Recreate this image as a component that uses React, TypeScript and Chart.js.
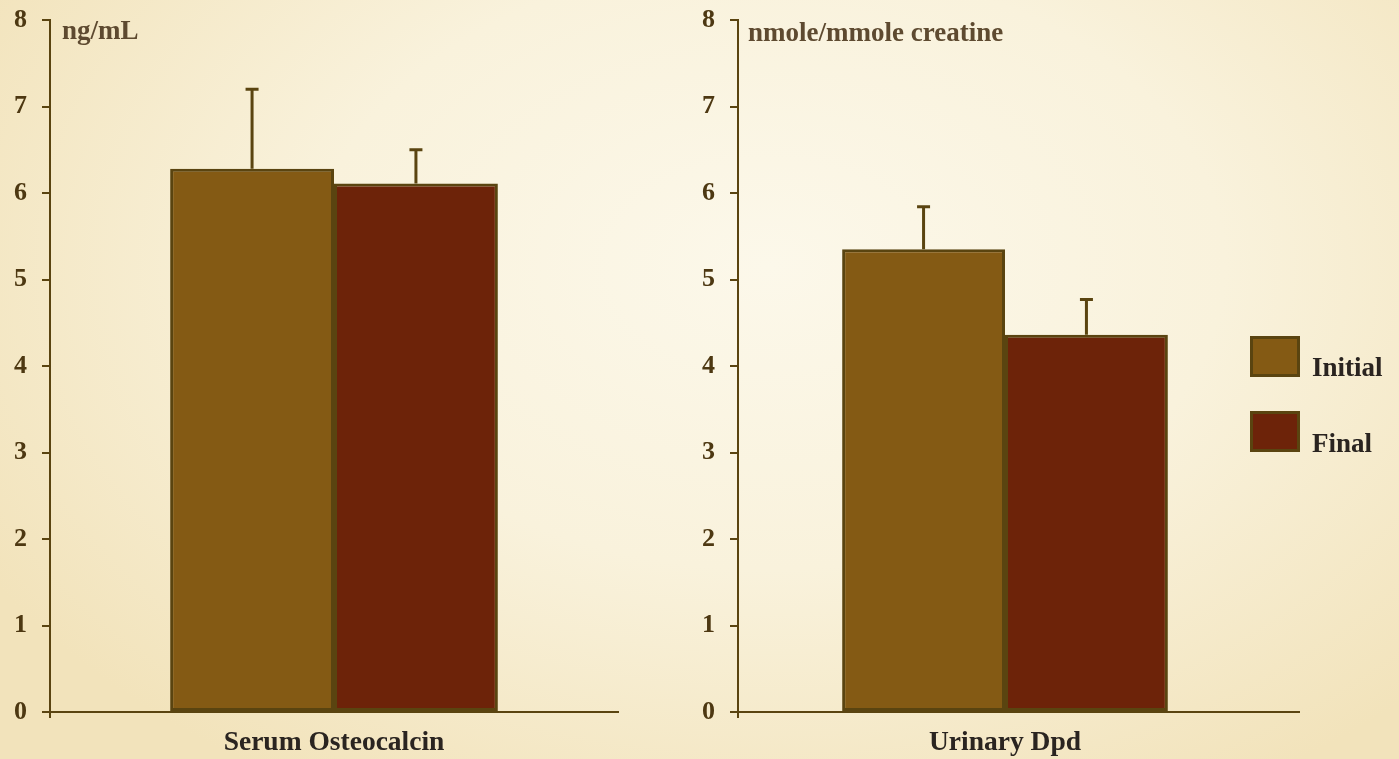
import React, { useEffect, useRef } from "react";
import { Chart, registerables } from "chart.js";

Chart.register(...registerables);

// ---- data ----
const seriesNames = ["Initial", "Final"];
const leftCategory = ["Serum Osteocalcin"];
const leftInitial = [6.28];
const leftFinal = [6.11];
const leftInitialErr = [7.2];
const leftFinalErr = [6.5];
const leftUnit = "ng/mL";

const rightCategory = ["Urinary Dpd"];
const rightInitial = [5.35];
const rightFinal = [4.36];
const rightInitialErr = [5.84];
const rightFinalErr = [4.77];
const rightUnit = "nmole/mmole creatine";

const yTicks = [0, 1, 2, 3, 4, 5, 6, 7, 8];

// ---- styles ----
const FONT = "'Liberation Serif', 'Times New Roman', serif";
const INITIAL_COLOR = "#845a14";
const FINAL_COLOR = "#6d2309";
const EDGE = "#5a4410";
const TICK_COLOR = "#4d3812";
const UNIT_COLOR = "#5e4a30";
const TEXT_DARK = "#2a2420";

const errorBarPlugin = {
  id: "errorBars",
  afterDatasetsDraw(chart: any) {
    const errs: number[][] = chart.options.plugins.errorBars?.errors || [];
    const ctx = chart.ctx;
    const yScale = chart.scales.y;
    ctx.save();
    ctx.strokeStyle = EDGE;
    ctx.lineWidth = 3;
    errs.forEach((arr, di) => {
      const meta = chart.getDatasetMeta(di);
      arr.forEach((v, j) => {
        const el = meta.data[j];
        if (!el) return;
        const x = el.x;
        const yTop = yScale.getPixelForValue(v);
        const yBar = el.y;
        ctx.beginPath();
        ctx.moveTo(x, yBar);
        ctx.lineTo(x, yTop);
        ctx.moveTo(x - 6.5, yTop);
        ctx.lineTo(x + 6.5, yTop);
        ctx.stroke();
      });
    });
    ctx.restore();
  },
};

// extends the x axis line beyond the chart area on the right and the y axis slightly below
const axisExtendPlugin = {
  id: "axisExtend",
  afterDraw(chart: any) {
    const ext = chart.options.plugins.axisExtend?.length || 0;
    const { ctx, chartArea } = chart;
    ctx.save();
    ctx.strokeStyle = EDGE;
    ctx.lineWidth = 2;
    ctx.beginPath();
    if (ext) {
      ctx.moveTo(chartArea.right - 1, chartArea.bottom);
      ctx.lineTo(chartArea.right + ext, chartArea.bottom);
    }
    ctx.moveTo(chartArea.left, chartArea.bottom);
    ctx.lineTo(chartArea.left, chartArea.bottom + 6);
    ctx.stroke();
    ctx.restore();
  },
};

function makeConfig(
  labels: string[],
  initial: number[],
  final: number[],
  initialErr: number[],
  finalErr: number[],
  padRight: number,
  catPct: number,
  ext: number
): any {
  return {
    type: "bar",
    data: {
      labels,
      datasets: [
        {
          label: seriesNames[0],
          data: initial,
          backgroundColor: INITIAL_COLOR,
          borderColor: EDGE,
          borderWidth: 3,
          borderSkipped: false,
          categoryPercentage: catPct,
          barPercentage: 1.0,
        },
        {
          label: seriesNames[1],
          data: final,
          backgroundColor: FINAL_COLOR,
          borderColor: EDGE,
          borderWidth: 3,
          borderSkipped: false,
          categoryPercentage: catPct,
          barPercentage: 1.0,
        },
      ],
    },
    options: {
      responsive: false,
      animation: false,
      layout: { padding: { top: 20, right: padRight, left: 0, bottom: 0 } },
      plugins: {
        legend: { display: false },
        tooltip: { enabled: false },
        errorBars: { errors: [initialErr, finalErr] },
        axisExtend: { length: ext },
      },
      scales: {
        x: {
          type: "category",
          grid: { display: false, drawTicks: false },
          border: { display: true, color: EDGE, width: 2 },
          ticks: {
            color: TEXT_DARK,
            font: { family: FONT, size: 27.5, weight: "bold" },
            padding: 14,
          },
          afterFit: (s: any) => {
            s.height = 47;
            s.paddingLeft = 0;
            s.paddingRight = 0;
          },
        },
        y: {
          min: 0,
          max: 8,
          afterBuildTicks: (s: any) => {
            s.ticks = yTicks.map((v) => ({ value: v }));
          },
          grid: {
            display: true,
            drawOnChartArea: false,
            drawTicks: true,
            tickLength: 8,
            color: EDGE,
            lineWidth: 2,
          },
          border: { display: true, color: EDGE, width: 2 },
          ticks: {
            color: TICK_COLOR,
            font: { family: FONT, size: 26, weight: "bold" },
            padding: 15,
          },
          afterFit: (s: any) => {
            s.width = 50;
            s.paddingTop = 0;
            s.paddingBottom = 0;
          },
        },
      },
    },
    plugins: [errorBarPlugin, axisExtendPlugin],
  };
}

function BarPanel(props: {
  left: number;
  labels: string[];
  initial: number[];
  final: number[];
  initialErr: number[];
  finalErr: number[];
  padRight: number;
  catPct: number;
  ext: number;
}) {
  const ref = useRef<HTMLCanvasElement | null>(null);
  useEffect(() => {
    if (!ref.current) return;
    const chart = new Chart(
      ref.current,
      makeConfig(
        props.labels,
        props.initial,
        props.final,
        props.initialErr,
        props.finalErr,
        props.padRight,
        props.catPct,
        props.ext
      )
    );
    return () => chart.destroy();
  }, []);
  return (
    <canvas
      ref={ref}
      width={620}
      height={759}
      style={{ position: "absolute", left: props.left, top: 0, width: 620, height: 759 }}
    />
  );
}

const textStyle = (color: string, size: number): React.CSSProperties => ({
  position: "absolute",
  fontFamily: FONT,
  fontWeight: "bold",
  fontSize: size,
  lineHeight: 1,
  color,
  whiteSpace: "nowrap",
});

export default function App() {
  return (
    <div
      style={{
        position: "fixed",
        left: 0,
        top: 0,
        width: 1399,
        height: 759,
        overflow: "hidden",
        background:
          "radial-gradient(ellipse 65% 80% at 55% 35%, #fcf8ea 0%, #f9f2dc 50%, #f2e3bb 100%)",
      }}
    >
      <BarPanel
        left={0}
        labels={leftCategory}
        initial={leftInitial}
        final={leftFinal}
        initialErr={leftInitialErr}
        finalErr={leftFinalErr}
        padRight={2}
        catPct={0.577}
        ext={0}
      />
      <BarPanel
        left={688}
        labels={rightCategory}
        initial={rightInitial}
        final={rightFinal}
        initialErr={rightInitialErr}
        finalErr={rightFinalErr}
        padRight={36}
        catPct={0.61}
        ext={28}
      />
      <div style={{ ...textStyle(UNIT_COLOR, 27), left: 62, top: 17 }}>{leftUnit}</div>
      <div style={{ ...textStyle(UNIT_COLOR, 27), left: 748, top: 19 }}>{rightUnit}</div>

      <div
        style={{
          position: "absolute",
          left: 1250,
          top: 336,
          width: 50,
          height: 41,
          boxSizing: "border-box",
          background: INITIAL_COLOR,
          border: `3px solid ${EDGE}`,
        }}
      />
      <div style={{ ...textStyle(TEXT_DARK, 27), left: 1312, top: 354 }}>{seriesNames[0]}</div>
      <div
        style={{
          position: "absolute",
          left: 1250,
          top: 411,
          width: 50,
          height: 41,
          boxSizing: "border-box",
          background: FINAL_COLOR,
          border: `3px solid ${EDGE}`,
        }}
      />
      <div style={{ ...textStyle(TEXT_DARK, 27), left: 1312, top: 430 }}>{seriesNames[1]}</div>
    </div>
  );
}
